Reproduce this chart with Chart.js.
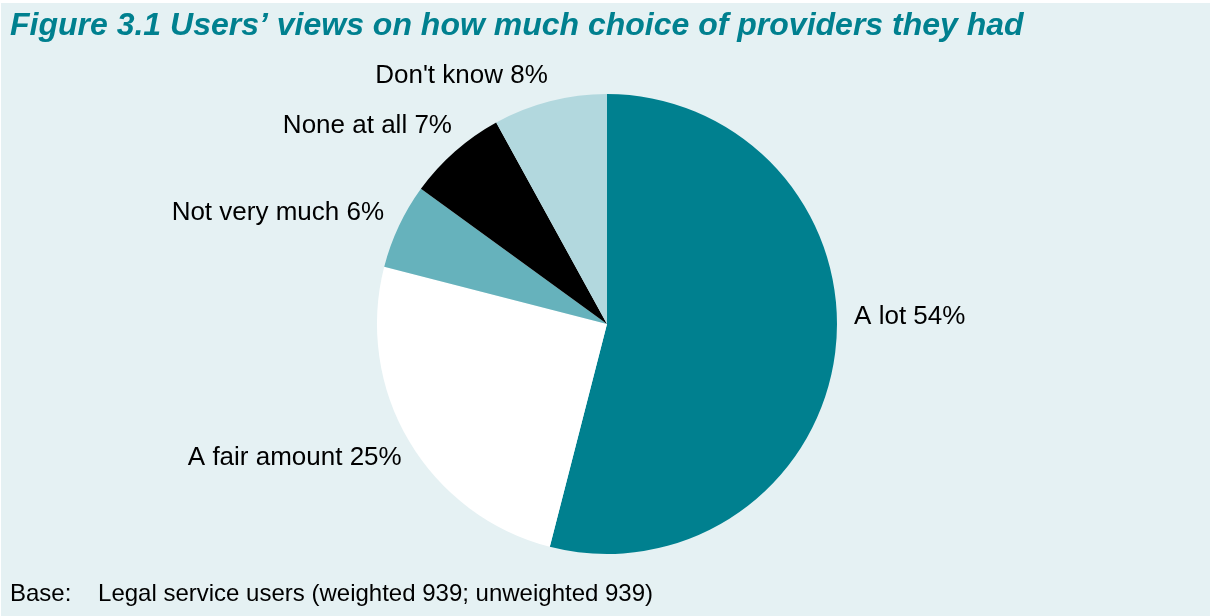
<!DOCTYPE html>
<html>
<head>
<meta charset="utf-8">
<title>Figure 3.1</title>
<script src="https://cdn.jsdelivr.net/npm/chart.js@4"></script>
<style>
  html, body { margin: 0; padding: 0; background: #ffffff; overflow: hidden; }
  #wrap { position: relative; width: 1210px; height: 616px; }
</style>
</head>
<body>
<div id="wrap"><canvas id="chart"></canvas></div>
<script>
// Survey answers, clockwise from 12 o'clock
const categories = ["A lot", "A fair amount", "Not very much", "None at all", "Don't know"];
const shares = [54, 25, 6, 7, 8];
const sliceColours = ["#00808f", "#ffffff", "#66b2bc", "#000000", "#b2d8de"];

const titleText = "Figure 3.1 Users\u2019 views on how much choice of providers they had";
const baseText = "Base:    Legal service users (weighted 939; unweighted 939)";

const TEAL = "#00808f";
const PANEL = "#e5f1f3";
const FONT = "'Liberation Sans', Arial, Helvetica, sans-serif";

// Light panel behind everything (leaves a thin white edge at the top/left)
const panelPlugin = {
  id: "panel",
  beforeDraw(chart) {
    const { ctx, width, height } = chart;
    ctx.save();
    ctx.fillStyle = PANEL;
    ctx.fillRect(1, 3, width - 1, height - 3);
    ctx.restore();
  }
};

// "Category NN%" labels placed just outside each slice
const outsideLabels = {
  id: "outsideLabels",
  afterDatasetsDraw(chart, args, opts) {
    const { ctx } = chart;
    const meta = chart.getDatasetMeta(0);
    const values = chart.data.datasets[0].data;
    ctx.save();
    ctx.font = opts.size + "px " + FONT;
    ctx.fillStyle = opts.color;
    const capH = opts.size * 0.716;
    meta.data.forEach((arc, i) => {
      const p = arc.getProps(["x", "y", "startAngle", "endAngle", "outerRadius"], true);
      const mid = (p.startAngle + p.endAngle) / 2;
      const dx = Math.cos(mid), dy = Math.sin(mid);
      const r = p.outerRadius + opts.gap;
      const nudge = (opts.nudge && opts.nudge[i]) || [0, 0];
      const ax = p.x + dx * r + nudge[0];
      const ay = p.y + dy * r + nudge[1];
      ctx.textAlign = dx >= 0 ? "left" : "right";
      ctx.textBaseline = "alphabetic";
      const baseY = dy > 0 ? ay + capH : ay;
      ctx.fillText(chart.data.labels[i] + " " + values[i] + "%", ax, baseY);
    });
    ctx.restore();
  }
};

new Chart(document.getElementById("chart"), {
  type: "pie",
  data: {
    labels: categories,
    datasets: [{
      data: shares,
      backgroundColor: sliceColours,
      borderWidth: 0,
      hoverOffset: 0
    }]
  },
  options: {
    responsive: true,
    maintainAspectRatio: false,
    animation: false,
    events: [],
    layout: { padding: { left: 10, right: 6, top: 0, bottom: 0 } },
    plugins: {
      legend: { display: false },
      tooltip: { enabled: false },
      title: {
        display: true,
        text: titleText,
        align: "start",
        color: TEAL,
        font: { family: FONT, size: 32, weight: "bold", style: "italic", lineHeight: 1.2 },
        padding: { top: 6.5, bottom: 49.1 }
      },
      subtitle: {
        display: true,
        position: "bottom",
        text: baseText,
        align: "start",
        color: "#000000",
        font: { family: FONT, size: 24, weight: "normal", lineHeight: 1.2 },
        padding: { top: 26, bottom: 7.2 }
      },
      outsideLabels: {
        size: 26,
        color: "#000000",
        gap: 12,
        nudge: [[7, -48.6], [3, -1], [-4, -1], [5, -9.5], [1, -6.5]]
      }
    }
  },
  plugins: [panelPlugin, outsideLabels]
});
</script>
</body>
</html>
